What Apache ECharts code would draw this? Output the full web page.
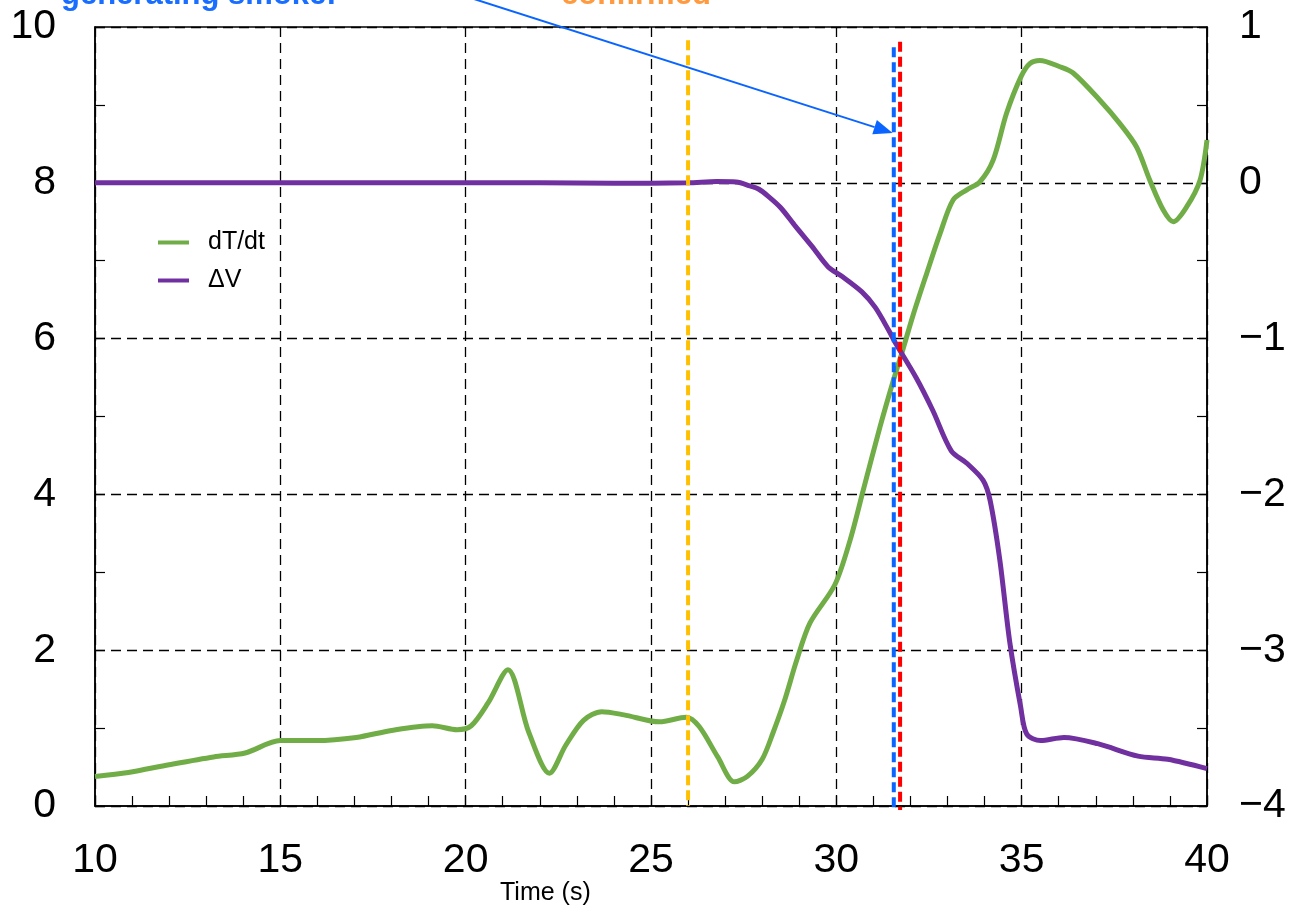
<!DOCTYPE html>
<html><head><meta charset="utf-8">
<script src="https://cdn.jsdelivr.net/npm/echarts@6/dist/echarts.min.js"></script>
<style>html,body{margin:0;padding:0;background:#fff}#c{width:1296px;height:912px}</style>
</head><body><div id="c"></div>
<script>
// ---- data ----
const greenTime = [10, 10.9, 12, 13.2, 14.05, 15, 15.96, 17.05, 18.0, 19.1, 19.77, 20.15, 20.6, 21.14, 21.7, 22.26, 22.7, 23.18, 23.67, 24.27, 25.23, 25.95, 26.3, 26.8, 27.25, 27.6, 28.0, 28.3, 28.6, 28.93, 29.29, 29.96, 30.37, 30.73, 31.18, 31.53, 31.77, 32.07, 32.44, 32.8, 33.15, 33.52, 33.87, 34.23, 34.59, 34.98, 35.22, 35.49, 36.03, 36.39, 37.11, 37.65, 38.1, 38.46, 38.82, 39.09, 39.45, 39.81, 40];
const greenValues = [0.38, 0.43, 0.53, 0.63, 0.68, 0.84, 0.84, 0.88, 0.97, 1.03, 0.98, 1.03, 1.32, 1.75, 0.95, 0.42, 0.78, 1.10, 1.21, 1.17, 1.08, 1.14, 1.02, 0.63, 0.31, 0.38, 0.6, 0.95, 1.35, 1.87, 2.35, 2.84, 3.41, 4.06, 4.87, 5.45, 5.82, 6.3, 6.84, 7.35, 7.78, 7.91, 8.01, 8.29, 8.89, 9.36, 9.53, 9.57, 9.49, 9.41, 9.06, 8.76, 8.46, 8.03, 7.65, 7.50, 7.69, 8.03, 8.55];
const purpleTime = [10, 12, 14, 16, 18, 20, 22, 24, 26, 26.77, 27.3, 27.67, 27.9, 28.18, 28.5, 28.9, 29.35, 29.78, 30.15, 30.69, 31.05, 31.42, 31.6, 32.15, 32.6, 33.1, 33.52, 33.96, 34.15, 34.41, 34.68, 34.97, 35.14, 35.51, 36.14, 37.05, 38.14, 38.94, 40];
const purpleValues = [0, 0, 0, 0, 0, 0, 0, -0.003, 0, 0.008, 0.005, -0.02, -0.04, -0.09, -0.16, -0.28, -0.41, -0.54, -0.60, -0.70, -0.80, -0.95, -1.03, -1.25, -1.46, -1.72, -1.80, -1.91, -2.04, -2.42, -2.95, -3.36, -3.54, -3.58, -3.56, -3.60, -3.68, -3.70, -3.76];
const seriesNames = ['dT/dt', 'ΔV'];
// event markers: [time, top value, bottom value]
const yellowMarker = [26.0, 9.83, 0];
const blueMarker = [31.55, 9.74, -0.08];
const redMarker = [31.72, 9.81, -0.05];
// arrow from annotation text to the blue marker: [time, value]
const arrowStart = [19.3, 10.5];
const arrowEnd = [31.52, 8.64];
const annotationTexts = ['generating smoke!', 'confirmed'];
const xLabel = 'Time (s)';

const FONT = '"Liberation Sans", Arial, sans-serif';
const zip = (a, b) => a.map((v, i) => [v, b[i]]);

const chart = echarts.init(document.getElementById('c'), null, {renderer: 'canvas'});
const dashGrid = {show: true, lineStyle: {color: '#000', width: 1.3, type: [10, 6]}};
const vline = (m, color) => ({
  type: 'line', data: [[m[0], m[1]], [m[0], m[2]]], symbol: 'none', clip: false, silent: true,
  lineStyle: {color: color, width: 4, type: [10, 5]}, z: 5
});
chart.setOption({
  animation: false,
  backgroundColor: '#fff',
  grid: {left: 95, right: 89, top: 27, bottom: 106, show: true, borderColor: '#000', borderWidth: 1.5, backgroundColor: 'transparent'},
  legend: {
    data: seriesNames, orient: 'vertical', left: 158, top: 230, itemWidth: 31, itemHeight: 4, icon: 'rect',
    itemGap: 13, padding: 0,
    textStyle: {fontSize: 25, fontFamily: FONT, color: '#000', padding: [0, 0, 0, 14]}
  },
  xAxis: {
    type: 'value', min: 10, max: 40, interval: 5,
    axisLine: {show: true, lineStyle: {color: '#000', width: 1.5}},
    axisTick: {show: true, inside: true, length: 10, lineStyle: {color: '#000', width: 1.2}},
    minorTick: {show: true, splitNumber: 5, length: 10, lineStyle: {color: '#000', width: 1.2}},
    axisLabel: {fontSize: 41, fontFamily: FONT, color: '#000', margin: 34},
    splitLine: dashGrid
  },
  yAxis: [{
    type: 'value', min: 0, max: 10, interval: 2, position: 'left',
    axisLine: {show: true, lineStyle: {color: '#000', width: 1.5}},
    axisTick: {show: true, inside: true, length: 10, lineStyle: {color: '#000', width: 1.2}},
    minorTick: {show: true, splitNumber: 2, length: 10, lineStyle: {color: '#000', width: 1.2}},
    axisLabel: {fontSize: 41, fontFamily: FONT, color: '#000', margin: 39},
    splitLine: dashGrid
  }, {
    type: 'value', min: -4, max: 1, interval: 1, position: 'right',
    axisLine: {show: true, lineStyle: {color: '#000', width: 1.5}},
    axisTick: {show: true, inside: true, length: 10, lineStyle: {color: '#000', width: 1.2}},
    minorTick: {show: true, splitNumber: 2, length: 10, lineStyle: {color: '#000', width: 1.2}},
    axisLabel: {fontSize: 41, fontFamily: FONT, color: '#000', margin: 32,
      formatter: v => String(v).replace('-', '\u2212')},
    splitLine: {show: false}
  }],
  series: [
    {name: seriesNames[0], type: 'line', data: zip(greenTime, greenValues), yAxisIndex: 0, smooth: 0.3,
      symbol: 'none', color: '#70AD47', lineStyle: {width: 5, color: '#70AD47'}, z: 3},
    {name: seriesNames[1], type: 'line', data: zip(purpleTime, purpleValues), yAxisIndex: 1, smooth: 0.3,
      symbol: 'none', color: '#7030A0', lineStyle: {width: 5, color: '#7030A0'}, z: 3},
    vline(yellowMarker, '#FFC000'),
    vline(blueMarker, '#0A64FF'),
    vline(redMarker, '#FF0000')
  ]
});

// arrow + annotation texts
const p0 = chart.convertToPixel({xAxisIndex: 0, yAxisIndex: 0}, arrowStart);
const p1 = chart.convertToPixel({xAxisIndex: 0, yAxisIndex: 0}, arrowEnd);
const ang = Math.atan2(p1[1] - p0[1], p1[0] - p0[0]);
const headL = 19, headW = 7.5;
const base = [p1[0] - headL * Math.cos(ang), p1[1] - headL * Math.sin(ang)];
const nx = -Math.sin(ang), ny = Math.cos(ang);
chart.setOption({
  graphic: [
    {type: 'line', shape: {x1: p0[0], y1: p0[1], x2: base[0], y2: base[1]}, style: {stroke: '#0A64FF', lineWidth: 2}, z: 10},
    {type: 'polygon', shape: {points: [p1, [base[0] + nx * headW, base[1] + ny * headW], [base[0] - nx * headW, base[1] - ny * headW]]},
      style: {fill: '#0A64FF'}, z: 10},
    {type: 'text', left: 61, top: -20, style: {text: annotationTexts[0], font: 'bold 31px ' + FONT, fill: '#1A6EFF'}, z: 10},
    {type: 'text', left: 561, top: -20, style: {text: annotationTexts[1], font: 'bold 31px ' + FONT, fill: '#FF9A40'}, z: 10},
    {type: 'text', left: 500, top: 881, style: {text: xLabel, font: '25px ' + FONT, fill: '#000'}, z: 10}
  ]
});
</script></body></html>
